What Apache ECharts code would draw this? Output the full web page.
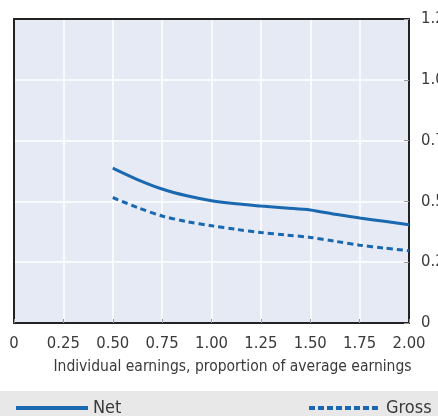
<!DOCTYPE html>
<html>
<head>
<meta charset="utf-8">
<script src="https://cdn.jsdelivr.net/npm/echarts@6/dist/echarts.min.js"></script>
<style>
  html, body { margin: 0; padding: 0; background: #fff; }
  #chart { width: 438px; height: 416px; }
</style>
</head>
<body>
<div id="chart"></div>
<script>
// earnings as proportion of average earnings
const earnings = [0.5, 0.625, 0.75, 0.875, 1.0, 1.125, 1.25, 1.375, 1.5, 1.625, 1.75, 1.875, 2.0];
const netValues = [0.637, 0.59, 0.551, 0.523, 0.503, 0.49, 0.481, 0.473, 0.465, 0.447, 0.432, 0.418, 0.404];
const grossValues = [0.516, 0.475, 0.44, 0.417, 0.40, 0.385, 0.372, 0.362, 0.352, 0.336, 0.32, 0.308, 0.297];
const xTickLabels = ['0', '0.25', '0.50', '0.75', '1.00', '1.25', '1.50', '1.75', '2.00'];
const yTickLabels = ['0', '0.25', '0.50', '0.75', '1.00', '1.25'];

const lineColor = '#1a68b0';
const font = '"DejaVu Sans Condensed", "Liberation Sans Narrow", "Liberation Sans", sans-serif';
const textColor = '#3a3a3a';

var myChart = echarts.init(document.getElementById('chart'));

// frame axis: only draws the black border line
const frameAxis = (pos) => ({
  type: 'value',
  position: pos,
  min: 0,
  max: 1,
  axisLine: { show: true, onZero: false, lineStyle: { color: '#222', width: 2 } },
  axisTick: { show: false },
  axisLabel: { show: false },
  splitLine: { show: false }
});

let option = {
  animation: false,
  textStyle: { fontFamily: font },
  graphic: [
    {
      type: 'rect',
      left: 0,
      top: 391,
      shape: { width: 438, height: 25 },
      style: { fill: '#e8e8e8' },
      z: -1
    }
  ],
  legend: [
    {
      data: ['Net'],
      left: 9,
      top: 394,
      itemWidth: 72,
      itemHeight: 20,
      itemGap: 8,
      itemStyle: { opacity: 0 },
      lineStyle: { width: 4 },
      textStyle: { fontFamily: font, fontSize: 18, color: textColor }
    },
    {
      data: ['Gross'],
      left: 302,
      top: 394,
      itemWidth: 72,
      itemHeight: 20,
      itemGap: 16,
      itemStyle: { opacity: 0 },
      lineStyle: { width: 4, type: [6, 3] },
      textStyle: { fontFamily: font, fontSize: 18, color: textColor }
    }
  ],
  grid: {
    left: 14,
    right: 29,
    top: 19,
    bottom: 93,
    outerBoundsMode: 'none',
    show: true,
    backgroundColor: '#e6eaf5',
    borderWidth: 0
  },
  xAxis: [
    {
      type: 'value',
      min: 0,
      max: 2,
      interval: 0.25,
      name: 'Individual earnings, proportion of average earnings',
      nameLocation: 'middle',
      nameGap: 36,
      nameTextStyle: { fontFamily: font, fontSize: 15.5, color: textColor, padding: [0, 0, 0, 42] },
      axisLine: { show: true, onZero: false, lineStyle: { color: '#222', width: 2 } },
      axisTick: { show: true, inside: true, length: 4, lineStyle: { color: '#999' } },
      axisLabel: {
        fontSize: 16.5,
        color: textColor,
        margin: 12,
        formatter: v => xTickLabels[Math.round(v / 0.25)]
      },
      splitLine: { show: true, lineStyle: { color: '#fff', width: 1.5 } }
    },
    frameAxis('top')
  ],
  yAxis: [
    {
      type: 'value',
      position: 'right',
      min: 0,
      max: 1.25,
      interval: 0.25,
      axisLine: { show: true, onZero: false, lineStyle: { color: '#222', width: 2 } },
      axisTick: { show: true, inside: true, length: 5, lineStyle: { color: '#999' } },
      axisLabel: {
        fontSize: 16.5,
        color: textColor,
        margin: 12,
        formatter: v => yTickLabels[Math.round(v / 0.25)]
      },
      splitLine: { show: true, lineStyle: { color: '#fff', width: 1.5 } }
    },
    frameAxis('left')
  ],
  series: [
    {
      name: 'Net',
      type: 'line',
      smooth: 0.3,
      symbol: 'none',
      lineStyle: { color: lineColor, width: 3 },
      itemStyle: { color: lineColor },
      data: earnings.map((x, i) => [x, netValues[i]])
    },
    {
      name: 'Gross',
      type: 'line',
      smooth: 0.3,
      symbol: 'none',
      lineStyle: { color: lineColor, width: 3, type: [6, 4] },
      itemStyle: { color: lineColor },
      data: earnings.map((x, i) => [x, grossValues[i]])
    }
  ]
};
option && myChart.setOption(option);
</script>
</body>
</html>
